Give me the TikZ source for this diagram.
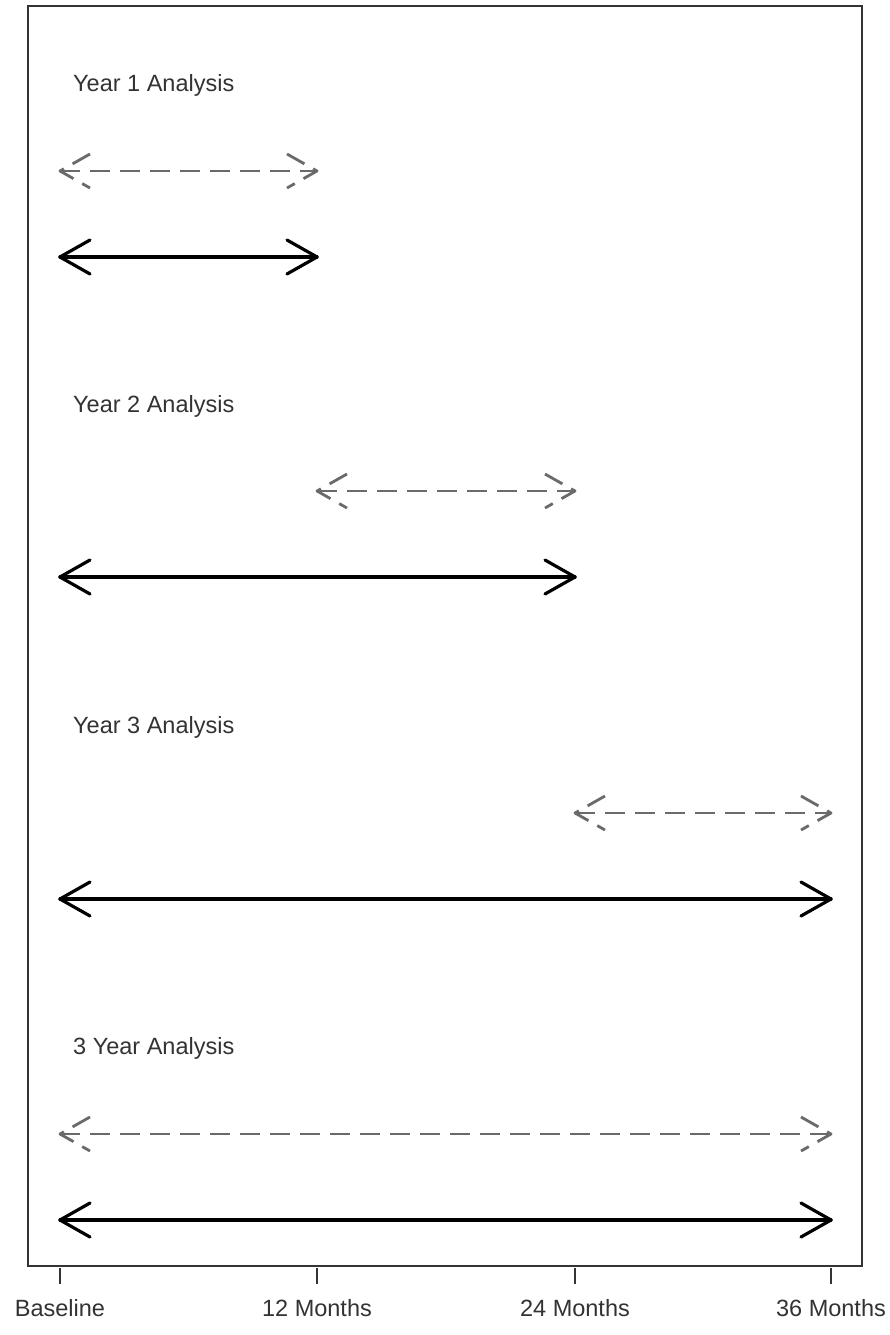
\documentclass[tikz,border=0pt]{standalone}
\usepackage{fontspec}
\setmainfont{Liberation Sans}
\usetikzlibrary{calc}
\definecolor{dashgray}{HTML}{6A6A6A}
\definecolor{txtgray}{HTML}{333333}
\definecolor{framegray}{HTML}{333333}
\tikzset{
  solidarrow/.style={line width=3.2pt, black, line cap=round, line join=round},
  dasharrow/.style={line width=2.8pt, dashgray, dash pattern=on 20pt off 10pt, line join=round},
  yearlabel/.style={anchor=base west, font=\fontsize{23.5}{27}\selectfont, text=txtgray, inner sep=0pt},
  ticklabel/.style={anchor=base, font=\fontsize{23.5}{27}\selectfont, text=txtgray, inner sep=0pt},
  tickmark/.style={line width=1.4pt, framegray},
}
% double-headed open arrow: #1 style, #2 start, #3 end
\newcommand{\dblarrow}[3]{%
  \draw[#1] (#2) -- (#3);
  \draw[#1] ($(#2)+(30,-17)$) -- (#2) -- ($(#2)+(30,17)$);
  \draw[#1] ($(#3)+(-30,-17)$) -- (#3) -- ($(#3)+(-30,17)$);
}
\begin{document}
\begin{tikzpicture}[x=1pt,y=-1pt]
\useasboundingbox (0,0) rectangle (890,1335);
\fill[white] (0,0) rectangle (890,1335);
\draw[line width=1.5pt, framegray] (28,6) rectangle (862,1266);

% Year 1
\node[yearlabel] (l1) at (73,91.5) {Year 1 Analysis};
\coordinate (d1s) at (60,171);  \coordinate (d1e) at (317,171);
\coordinate (s1s) at (60,257);  \coordinate (s1e) at (317,257);
\dblarrow{dasharrow}{d1s}{d1e}
\dblarrow{solidarrow}{s1s}{s1e}

% Year 2
\node[yearlabel] (l2) at (73,412.5) {Year 2 Analysis};
\coordinate (d2s) at (317,491);  \coordinate (d2e) at (575,491);
\coordinate (s2s) at (60,577);  \coordinate (s2e) at (575,577);
\dblarrow{dasharrow}{d2s}{d2e}
\dblarrow{solidarrow}{s2s}{s2e}

% Year 3
\node[yearlabel] (l3) at (73,733.5) {Year 3 Analysis};
\coordinate (d3s) at (575,813);  \coordinate (d3e) at (831,813);
\coordinate (s3s) at (60,899);  \coordinate (s3e) at (831,899);
\dblarrow{dasharrow}{d3s}{d3e}
\dblarrow{solidarrow}{s3s}{s3e}

% 3 Year
\node[yearlabel] (l4) at (73,1054.5) {3 Year Analysis};
\coordinate (d4s) at (60,1134);  \coordinate (d4e) at (831,1134);
\coordinate (s4s) at (60,1220);  \coordinate (s4e) at (831,1220);
\dblarrow{dasharrow}{d4s}{d4e}
\dblarrow{solidarrow}{s4s}{s4e}

% ticks and labels
\foreach \p/\t [count=\i] in {60/Baseline,317/12 Months,575/24 Months,831/36 Months}{
  \coordinate (ta\i) at (\p,1268);
  \coordinate (tb\i) at (\p,1284);
  \draw[tickmark] (ta\i) -- (tb\i);
  \node[ticklabel] (tl\i) at (\p,1316) {\t};
}
\end{tikzpicture}
\end{document}
